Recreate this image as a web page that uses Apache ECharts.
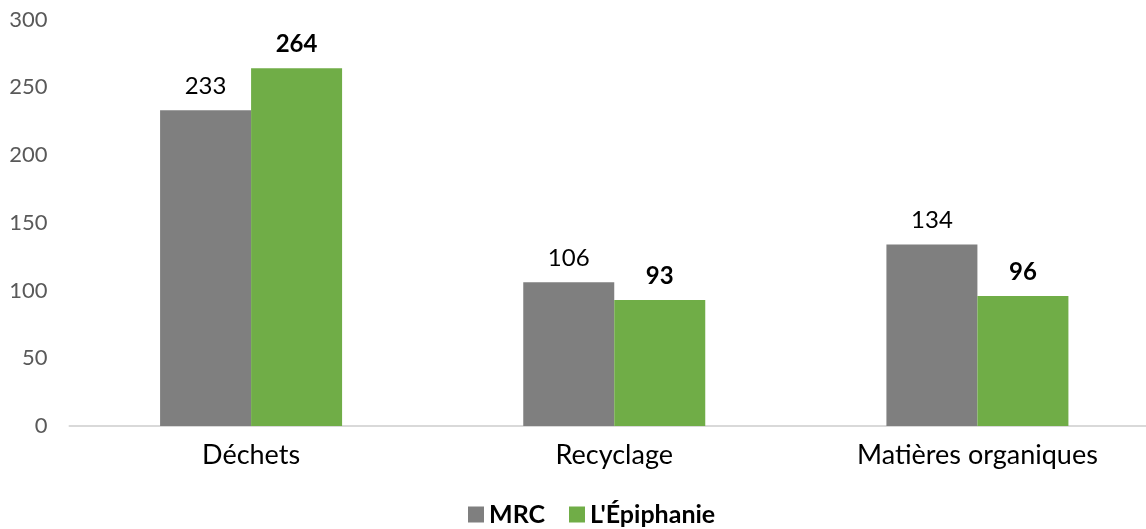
<!DOCTYPE html>
<html>
<head>
<meta charset="utf-8">
<script src="https://cdn.jsdelivr.net/npm/echarts@6/dist/echarts.min.js"></script>
<style>
html,body{margin:0;padding:0;background:#fff;overflow:hidden;}
#chart{width:1159px;height:529px;}
</style>
</head>
<body>
<div id="chart"></div>
<script>
const categories = ['Déchets', 'Recyclage', 'Matières organiques'];
const seriesNames = ['MRC', "L'Épiphanie"];
const mrcValues = [233, 106, 134];
const epiphanieValues = [264, 93, 96];
const yTicks = [0, 50, 100, 150, 200, 250, 300];

const FONT = 'Lato';
const chart = echarts.init(document.getElementById('chart'));
chart.setOption({
  animation: false,
  textStyle: { fontFamily: FONT },
  grid: { left: 69.5, right: 0, top: 19.5, bottom: 103, containLabel: false },
  legend: {
    data: seriesNames,
    top: 497,
    left: 463,
    itemWidth: 16,
    itemHeight: 16,
    itemGap: 24,
    icon: 'rect',
    textStyle: { fontFamily: FONT, fontSize: 25, fontWeight: 'bold', color: '#000' }
  },
  xAxis: {
    type: 'category',
    data: categories,
    axisLine: { lineStyle: { color: '#D9D9D9', width: 2 } },
    axisTick: { show: false },
    axisLabel: { fontFamily: FONT, fontSize: 27, color: '#000', margin: 16 }
  },
  yAxis: {
    type: 'value',
    min: yTicks[0],
    max: yTicks[yTicks.length - 1],
    interval: 50,
    splitLine: { show: false },
    axisLine: { show: false },
    axisTick: { show: false },
    axisLabel: { fontFamily: FONT, fontSize: 22, color: '#595959', margin: 22 }
  },
  series: [
    {
      name: seriesNames[0],
      type: 'bar',
      data: mrcValues,
      barWidth: 91,
      barGap: '0%',
      itemStyle: { color: '#7F7F7F' },
      label: { show: true, position: 'top', distance: 12, fontFamily: FONT, fontSize: 24, color: '#000' }
    },
    {
      name: seriesNames[1],
      type: 'bar',
      data: epiphanieValues,
      barWidth: 91,
      barGap: '0%',
      itemStyle: { color: '#70AD47' },
      label: { show: true, position: 'top', distance: 12, fontFamily: FONT, fontSize: 24, fontWeight: 'bold', color: '#000' }
    }
  ]
});
</script>
</body>
</html>
